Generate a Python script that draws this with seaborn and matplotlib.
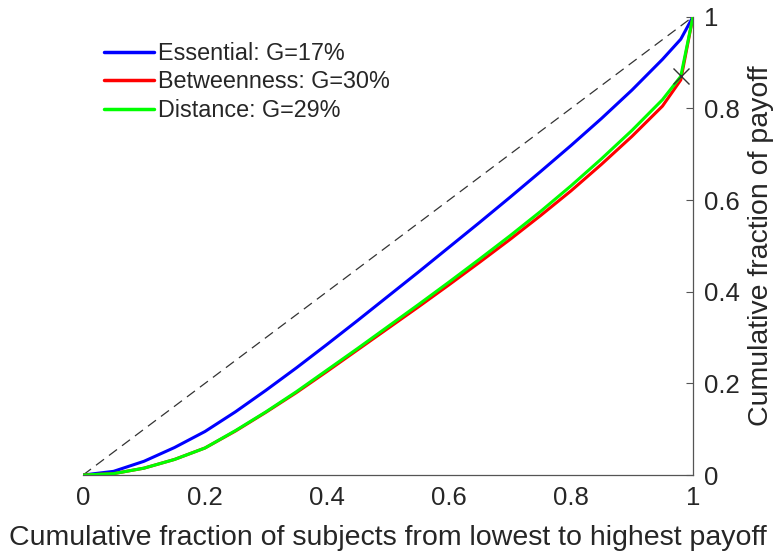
import numpy as np
import pandas as pd
import seaborn as sns
import matplotlib
matplotlib.use("Agg")
import matplotlib.pyplot as plt

# Lorenz curves: cumulative share of subjects vs cumulative share of payoff
frac_subjects = [0.0, 0.05, 0.10, 0.15, 0.20, 0.25, 0.30, 0.35, 0.40, 0.45, 0.50,
                 0.55, 0.60, 0.65, 0.70, 0.75, 0.80, 0.85, 0.90, 0.95, 0.98, 1.0]
essential = [0.0, 0.008, 0.030, 0.060, 0.095, 0.138, 0.185, 0.234, 0.285, 0.337, 0.390,
             0.443, 0.497, 0.551, 0.606, 0.662, 0.719, 0.778, 0.840, 0.907, 0.951, 1.0]
betweenness = [0.0, 0.003, 0.015, 0.034, 0.059, 0.096, 0.137, 0.180, 0.226, 0.273, 0.320,
               0.367, 0.415, 0.464, 0.514, 0.566, 0.620, 0.678, 0.739, 0.805, 0.862, 1.0]
distance = [0.0, 0.003, 0.015, 0.034, 0.059, 0.097, 0.138, 0.182, 0.229, 0.276, 0.324,
            0.372, 0.421, 0.471, 0.522, 0.575, 0.631, 0.690, 0.752, 0.819, 0.870, 1.0]
series_labels = ["Essential: G=17%", "Betweenness: G=30%", "Distance: G=29%"]
series_colors = ["#0000ff", "#ff0000", "#00ff00"]
x_ticks = [0, 0.2, 0.4, 0.6, 0.8, 1]
x_tick_labels = ["0", "0.2", "0.4", "0.6", "0.8", "1"]
y_ticks = [0, 0.2, 0.4, 0.6, 0.8, 1]
y_tick_labels = ["0", "0.2", "0.4", "0.6", "0.8", "1"]

df = pd.DataFrame({
    "x": frac_subjects * 3,
    "y": essential + betweenness + distance,
    "series": [series_labels[0]] * len(frac_subjects)
              + [series_labels[1]] * len(frac_subjects)
              + [series_labels[2]] * len(frac_subjects),
})

sns.set_style("white")
plt.rcParams["font.family"] = ["Liberation Sans", "DejaVu Sans"]
text_color = "#262626"

fig = plt.figure(figsize=(7.78, 5.58), dpi=100)
ax = fig.add_axes([0.1067, 0.1487, 0.784, 0.8213])

# line of perfect equality
eq = pd.DataFrame({"x": [0, 1], "y": [0, 1]})
sns.lineplot(data=eq, x="x", y="y", ax=ax, color="#333333", lw=0.9,
             linestyle=(0, (8, 5)), legend=False)

sns.lineplot(data=df, x="x", y="y", hue="series", hue_order=series_labels,
             palette=series_colors, ax=ax, lw=2.2, sort=False,
             estimator=None)

# kink of the distance curve
ax.plot(frac_subjects[-2], distance[-2], marker="x", color="#333333",
        markersize=11, mew=1.0, zorder=5)

ax.set_xlim(0, 1)
ax.set_ylim(0, 1)
ax.set_xticks(x_ticks)
ax.set_xticklabels(x_tick_labels)
ax.set_yticks(y_ticks)
ax.set_yticklabels(y_tick_labels)
ax.yaxis.tick_right()
ax.yaxis.set_label_position("right")
ax.tick_params(axis="both", direction="in", length=5, width=0.8,
               colors="#555555", labelcolor=text_color, labelsize=18.5)
ax.tick_params(axis="x", pad=8)
ax.tick_params(axis="y", pad=8)

for side in ["top", "left"]:
    ax.spines[side].set_visible(False)
for side in ["bottom", "right"]:
    ax.spines[side].set_visible(True)
    ax.spines[side].set_color("#555555")
    ax.spines[side].set_linewidth(0.9)

ax.set_xlabel("Cumulative fraction of subjects from lowest to highest payoff",
              fontsize=20.5, color=text_color, labelpad=11)
ax.set_ylabel("Cumulative fraction of payoff", fontsize=20.5, color=text_color,
              labelpad=6)

leg = ax.legend(loc="upper left", bbox_to_anchor=(0.012, 0.976), frameon=False,
                fontsize=16.8, handlelength=2.15, handletextpad=0.15,
                labelspacing=0.24, borderaxespad=0.2)
for line in leg.get_lines():
    line.set_linewidth(2.5)
for t in leg.get_texts():
    t.set_color(text_color)

fig.savefig("out.png", dpi=100)
